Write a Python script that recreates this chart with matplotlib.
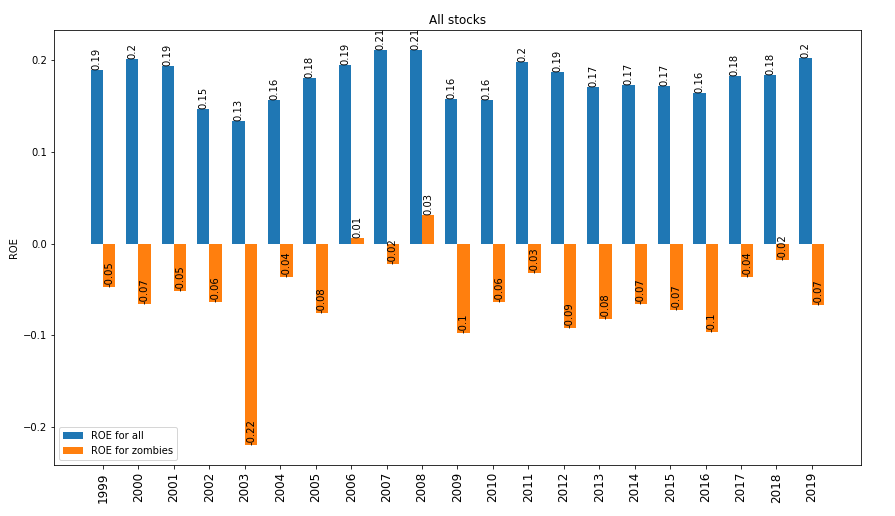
import numpy as np
import matplotlib
matplotlib.use("Agg")
import matplotlib.pyplot as plt

# 年份
years = list(range(1999, 2020))

# ROE数据
roe_all = [0.189, 0.2004, 0.193, 0.146, 0.133, 0.156, 0.180, 0.194, 0.211, 0.211,
           0.157, 0.156, 0.198, 0.187, 0.170, 0.173, 0.172, 0.164, 0.182, 0.184, 0.202]
roe_zombies = [-0.047, -0.066, -0.052, -0.064, -0.2197, -0.036, -0.076, 0.0065, -0.022, 0.0305,
               -0.097, -0.064, -0.032, -0.092, -0.082, -0.066, -0.072, -0.096, -0.037, -0.018, -0.067]

width = 0.35
x = np.arange(len(years))

fig = plt.figure(figsize=(895 / 72, 516 / 72), dpi=72)
ax = fig.add_axes([0.0603, 0.0988, 0.9017, 0.8431])

bars1 = ax.bar(x - width / 2, roe_all, width, label='ROE for all')
bars2 = ax.bar(x + width / 2, roe_zombies, width, label='ROE for zombies')

# 柱子上标数值
for bars in (bars1, bars2):
    for b in bars:
        h = b.get_height()
        ax.text(b.get_x() + b.get_width() / 2, h, str(round(h, 2)),
                ha='center', va='bottom', rotation=90, fontsize=10)

ax.set_xticks(x)
ax.set_xticklabels(years, rotation=90, fontsize=12)
ax.set_ylabel('ROE')
ax.set_title('All stocks')
ax.legend(loc='lower left')

fig.savefig('out.png', dpi=72)
